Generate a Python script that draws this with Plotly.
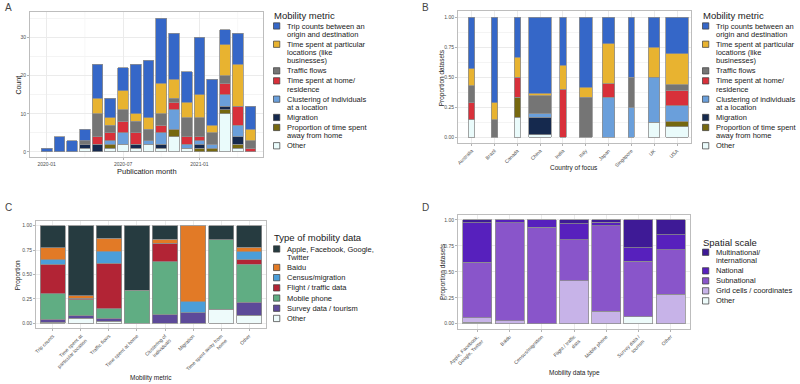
import plotly.graph_objects as go

W, H = 800, 384
def px(x): return x / W
def py(y): return 1 - y / H

FONT = "'Liberation Sans', Arial, Helvetica, sans-serif"

# ---------------- Data ----------------
months = ["2020-01", "2020-02", "2020-03", "2020-04", "2020-05", "2020-06", "2020-07",
          "2020-08", "2020-09", "2020-10", "2020-11", "2020-12", "2021-01", "2021-02",
          "2021-03", "2021-04", "2021-05"]
month_ticks = ["2020-01", "2020-07", "2021-01"]
month_minor = ["2020-04", "2020-10", "2021-04"]

metrics = ["Trip counts between an origin and destination",
           "Time spent at particular locations (like businesses)",
           "Traffic flows",
           "Time spent at home/ residence",
           "Clustering of individuals at a location",
           "Migration",
           "Proportion of time spent away from home",
           "Other"]

# counts per publication month (panel A)
a_trip = [1, 4, 3, 3, 9, 5, 6, 13, 15, 17, 12, 8, 15, 12, 4, 8, 6]
a_time_loc = [0, 0, 0, 0, 4, 2, 5, 2, 3, 8, 5, 4, 6, 2, 8, 11, 3]
a_traffic = [0, 0, 0, 1, 6, 2, 3, 3, 3, 3, 1, 5, 5, 3, 2, 0, 2]
a_home = [0, 0, 0, 0, 2, 2, 3, 3, 0, 2, 2, 2, 1, 0, 3, 5, 1]
a_cluster = [0, 0, 0, 0, 0, 1, 3, 0, 1, 3, 5, 1, 1, 1, 3, 3, 0]
a_migration = [0, 0, 0, 1, 2, 0, 0, 1, 0, 1, 0, 0, 1, 0, 1, 2, 0]
a_away = [0, 0, 0, 0, 0, 1, 0, 0, 0, 0, 2, 0, 1, 1, 1, 1, 0]
a_other = [0, 0, 0, 1, 0, 1, 2, 1, 2, 1, 4, 1, 0, 0, 10, 1, 0]
a_series = [a_trip, a_time_loc, a_traffic, a_home, a_cluster, a_migration, a_away, a_other]

# panel B: dataset counts per country of focus
countries = ["Australia", "Brazil", "Canada", "China", "India", "Italy", "Japan",
             "Singapore", "UK", "USA"]
b_trip = [3, 5, 2, 35, 2, 7, 2, 2, 2, 7]
b_time_loc = [1, 1, 1, 1, 1, 1, 3, 0, 2, 6]
b_traffic = [1, 1, 0, 8, 0, 4, 0, 1, 0, 1]
b_home = [1, 0, 1, 0, 2, 0, 1, 0, 0, 3]
b_cluster = [0, 0, 0, 2, 0, 0, 3, 1, 3, 3]
b_migration = [0, 0, 0, 8, 0, 0, 0, 0, 0, 0]
b_away = [0, 0, 1, 0, 0, 0, 0, 0, 0, 1]
b_other = [1, 0, 1, 1, 0, 0, 0, 0, 1, 2]
b_series = [b_trip, b_time_loc, b_traffic, b_home, b_cluster, b_migration, b_away, b_other]

# panel C: proportion of each data type per mobility metric
c_metrics = ["Trip counts", "Time spent at particular location", "Traffic flows",
             "Time spent at home", "Clustering of individuals", "Migration",
             "Time spent away from home", "Other"]
data_types = ["Apple, Facebook, Google, Twitter", "Baidu", "Census/migration",
              "Flight / traffic data", "Mobile phone", "Survey data / tourism", "Other"]
c_apple = [0.225, 0.716, 0.13, 0.66, 0.14, 0.0, 0.143, 0.22]
c_baidu = [0.125, 0.027, 0.13, 0.0, 0.04, 0.78, 0.0, 0.045]
c_census = [0.045, 0.0, 0.125, 0.0, 0.0, 0.11, 0.0, 0.085]
c_flight = [0.30, 0.017, 0.465, 0.0, 0.19, 0.0, 0.0, 0.045]
c_mobile = [0.265, 0.16, 0.10, 0.34, 0.54, 0.0, 0.714, 0.39]
c_survey = [0.03, 0.03, 0.03, 0.0, 0.09, 0.11, 0.0, 0.13]
c_other = [0.01, 0.05, 0.02, 0.0, 0.0, 0.0, 0.143, 0.085]
c_series = [c_apple, c_baidu, c_census, c_flight, c_mobile, c_survey, c_other]

# panel D: proportion of spatial scale per data type
d_types = ["Apple, Facebook, Google, Twitter", "Baidu", "Census/migration",
           "Flight / traffic data", "Mobile phone", "Survey data / tourism", "Other"]
scales = ["Multinational/ international", "National", "Subnational",
          "Grid cells / coordinates", "Other"]
d_multi = [0.026, 0.0, 0.0, 0.035, 0.023, 0.267, 0.143]
d_national = [0.379, 0.029, 0.068, 0.155, 0.032, 0.133, 0.143]
d_sub = [0.537, 0.942, 0.932, 0.395, 0.823, 0.533, 0.428]
d_grid = [0.042, 0.029, 0.0, 0.415, 0.122, 0.0, 0.286]
d_other = [0.016, 0.0, 0.0, 0.0, 0.0, 0.067, 0.0]
d_series = [d_multi, d_national, d_sub, d_grid, d_other]

# ---------------- Styles ----------------
metric_colors = ["#3567C8", "#E8B330", "#757575", "#D8303A", "#6A9FDB", "#15294E", "#76680F", "#EAFBFB"]
type_colors = ["#263B40", "#E27A26", "#4B9ED9", "#B22435", "#60AD83", "#5D4A99", "#EEFBFB"]
scale_colors = ["#3E1A96", "#5720BD", "#8955CA", "#C7B3E8", "#EDFBFA"]
b_widths = [0.28, 0.28, 0.28, 0.98, 0.27, 0.55, 0.54, 0.27, 0.5, 0.98]

metric_legend_lines = [["Trip counts between an", "origin and destination"],
                       ["Time spent at particular", "locations (like", "businesses)"],
                       ["Traffic flows"],
                       ["Time spent at home/", "residence"],
                       ["Clustering of individuals", "at a location"],
                       ["Migration"],
                       ["Proportion of time spent", "away from home"],
                       ["Other"]]
type_legend_lines = [["Apple, Facebook, Google,", "Twitter"], ["Baidu"], ["Census/migration"],
                     ["Flight / traffic data"], ["Mobile phone"], ["Survey data / tourism"], ["Other"]]
scale_legend_lines = [["Multinational/", "international"], ["National"], ["Subnational"],
                      ["Grid cells / coordinates"], ["Other"]]
c_ticktext = ["Trip counts", "Time spent at<br>particular location", "Traffic flows",
              "Time spent at home", "Clustering of<br>individuals", "Migration",
              "Time spent away from<br>home", "Other"]
d_ticktext = ["Apple, Facebook,<br>Google, Twitter", "Baidu", "Census/migration",
              "Flight / traffic<br>data", "Mobile phone", "Survey data /<br>tourism", "Other"]

OUTLINE = dict(color="#8F8F8F", width=0.8)

def nz(vals):
    return [v if v else None for v in vals]

fig = go.Figure()

# Panel A (stack bottom = last metric)
for i in reversed(range(len(metrics))):
    fig.add_trace(go.Bar(x=months, y=nz(a_series[i]), name=metrics[i],
                         marker=dict(color=metric_colors[i], line=OUTLINE),
                         width=0.84, xaxis="x", yaxis="y", showlegend=False))

# Panel B
for i in reversed(range(len(metrics))):
    props = []
    for j in range(len(countries)):
        tot = sum(s[j] for s in b_series)
        props.append(b_series[i][j] / tot)
    fig.add_trace(go.Bar(x=countries, y=nz(props), name=metrics[i],
                         marker=dict(color=metric_colors[i], line=OUTLINE),
                         width=b_widths, xaxis="x2", yaxis="y2", showlegend=False))

# Panel C
for i in reversed(range(len(data_types))):
    fig.add_trace(go.Bar(x=c_metrics, y=nz(c_series[i]), name=data_types[i],
                         marker=dict(color=type_colors[i], line=OUTLINE),
                         width=0.9, xaxis="x3", yaxis="y3", showlegend=False))

# Panel D
for i in reversed(range(len(scales))):
    fig.add_trace(go.Bar(x=d_types, y=nz(d_series[i]), name=scales[i],
                         marker=dict(color=scale_colors[i], line=OUTLINE),
                         width=0.9, xaxis="x4", yaxis="y4", showlegend=False))

GRID = "#EBEBEB"
MINOR = "#F4F4F4"
BORDER = "#BDBDBD"
TICKF = dict(family=FONT, size=5, color="#4D4D4D")

def common():
    return dict(showline=True, mirror=True, linecolor=BORDER, linewidth=1,
                ticks="outside", ticklen=2, tickcolor="#B3B3B3", tickfont=TICKF,
                automargin=False, showgrid=True, gridcolor=GRID, gridwidth=0.6,
                zeroline=False, fixedrange=True)

xa = common()
xa.update(domain=[px(30), px(263)], anchor="y", type="category", ticklen=1.5,
          range=[-1.31, 16.99], tickvals=month_ticks, ticktext=month_ticks, tickangle=0)
ya = common()
ya.update(domain=[py(157), py(11.5)], anchor="x", range=[-1.31, 36.75],
          tickvals=[0, 10, 20, 30], minor=dict(dtick=5, showgrid=True, gridcolor=MINOR))

xb = common()
xb.update(domain=[px(458), px(690.7)], anchor="y2", type="category", range=[-0.6, 9.6],
          tickangle=-45)
yb = common()
yb.update(domain=[py(143), py(11.3)], anchor="x2", range=[-0.05, 1.05],
          tickvals=[0, 0.25, 0.5, 0.75, 1.0], tickformat=".2f",
          minor=dict(dtick=0.125, showgrid=True, gridcolor=MINOR))

xc = common()
xc.update(domain=[px(36), px(266)], anchor="y3", type="category", range=[-0.6, 7.6],
          tickangle=-45, tickvals=c_metrics, ticktext=c_ticktext)
yc = common()
yc.update(domain=[py(328.2), py(220.8)], anchor="x3", range=[-0.05, 1.05],
          tickvals=[0, 0.25, 0.5, 0.75, 1.0], tickformat=".2f")

xd = common()
xd.update(domain=[px(458), px(690)], anchor="y4", type="category", range=[-0.6, 6.6],
          tickangle=-45, tickvals=d_types, ticktext=d_ticktext)
yd = common()
yd.update(domain=[py(328.9), py(214.8)], anchor="x4", range=[-0.05, 1.05],
          tickvals=[0, 0.25, 0.5, 0.75, 1.0], tickformat=".2f")

annotations = []
shapes = []

# minor vertical grid lines of panel A (between the labelled months)
for m in month_minor:
    shapes.append(dict(type="line", xref="x", yref="y domain", x0=m, x1=m, y0=0, y1=1,
                       line=dict(color=MINOR, width=0.6), layer="below"))

def text(x, y, s, size, color="#1A1A1A", xanchor="left", angle=0):
    annotations.append(dict(x=px(x), y=py(y), xref="paper", yref="paper", text=s,
                            showarrow=False, xanchor=xanchor, yanchor="middle",
                            textangle=angle, font=dict(family=FONT, size=size, color=color)))

# panel letters
for lx, ly, letter in [(3, 7.5, "A"), (420, 7.5, "B"), (3, 207.5, "C"), (420, 207.5, "D")]:
    text(lx, ly, letter, 10, color="#444444")

# axis titles
text(146.5, 171, "Publication month", 7.5, xanchor="center")
text(18.3, 85.3, "Count", 7, xanchor="center", angle=-90)
text(574, 168.3, "Country of focus", 6.5, xanchor="center")
text(442.3, 78, "Proportion datasets", 6.5, xanchor="center", angle=-90)
text(151, 377.7, "Mobility metric", 6.5, xanchor="center")
text(18.3, 275, "Proportion", 6.5, xanchor="center", angle=-90)
text(574, 372.7, "Mobility data type", 6.5, xanchor="center")
text(442.3, 271.7, "Proportion datasets", 6.5, xanchor="center", angle=-90)

def legend(x0, title_y, title, lines_list, colors, first_y, line_gap, item_gap):
    text(x0 - 0.5, title_y, title, 9.5)
    y = first_y
    for lines, col in zip(lines_list, colors):
        shapes.append(dict(type="rect", xref="paper", yref="paper",
                           x0=px(x0 + 1), x1=px(x0 + 7.3), y0=py(y - 3.2), y1=py(y + 3.1),
                           fillcolor=col, line=dict(color="#3A3A3A", width=0.7)))
        for k, ln in enumerate(lines):
            text(x0 + 12, y + k * line_gap, ln, 7.5, color="#1A1A1A")
        y += (len(lines) - 1) * line_gap + item_gap

legend(272.5, 15.7, "Mobility metric", metric_legend_lines, metric_colors, 26, 8.3, 10)
legend(701.5, 15.7, "Mobility metric", metric_legend_lines, metric_colors, 26, 8.3, 10)
legend(272.5, 237.7, "Type of mobility data", type_legend_lines, type_colors, 249, 8.3, 10.2)
legend(701.5, 242.3, "Spatial scale", scale_legend_lines, scale_colors, 252.3, 8.6, 10)

fig.update_layout(
    width=W, height=H, margin=dict(l=0, r=0, t=0, b=0),
    paper_bgcolor="white", plot_bgcolor="white",
    barmode="stack", showlegend=False,
    font=dict(family=FONT),
    xaxis=xa, yaxis=ya, xaxis2=xb, yaxis2=yb, xaxis3=xc, yaxis3=yc, xaxis4=xd, yaxis4=yd,
    annotations=annotations, shapes=shapes,
)

# the page body has a default 8px margin; remove it so the 800x384 figure fills the window
fig.write_html("out.html", config={"displayModeBar": False},
               post_script="document.body.style.margin='0';")
